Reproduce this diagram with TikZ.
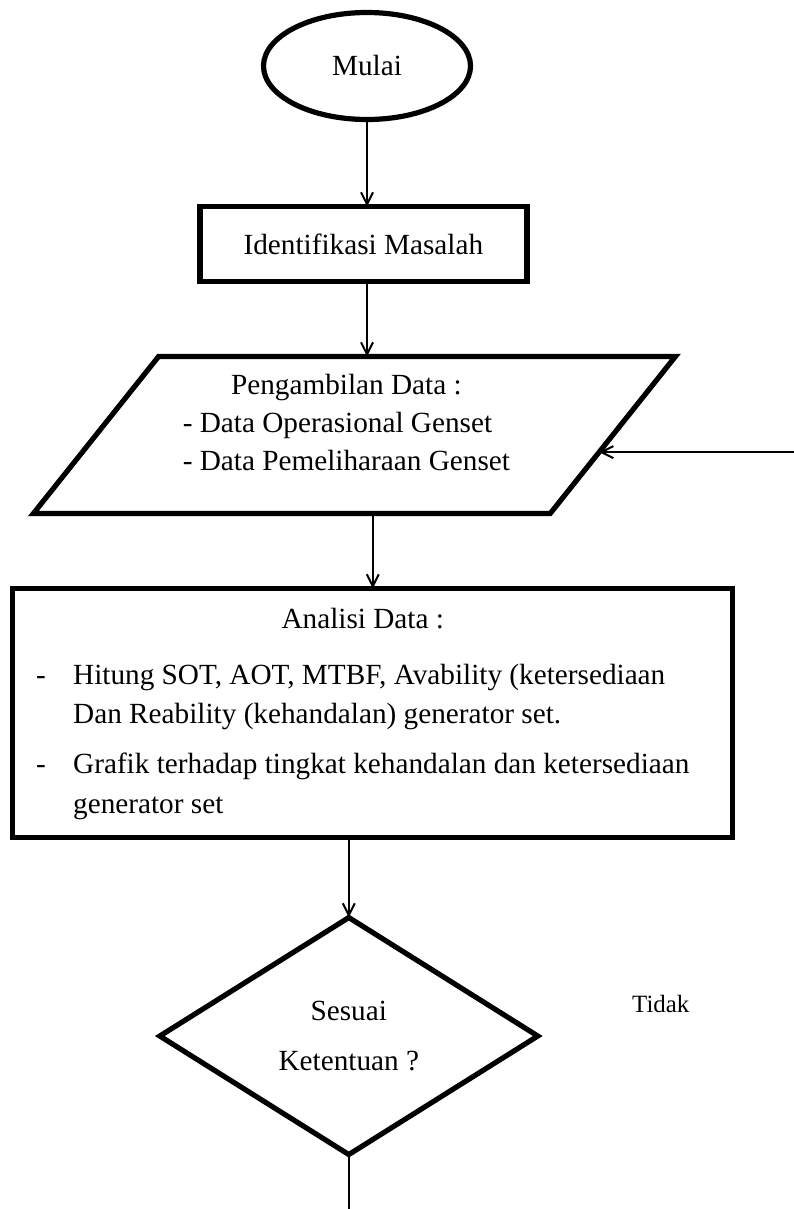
\documentclass[tikz,border=0pt]{standalone}
\usepackage{fontspec}
\setmainfont{Liberation Serif}
\usetikzlibrary{arrows.meta, positioning, shapes.geometric, calc}

\begin{document}
\begin{tikzpicture}[
    >=Straight Barb,
    font=\fontsize{20.8pt}{26.7pt}\selectfont,
    startend/.style={ellipse, draw=black, line width=1.3mm, outer sep=0pt, minimum width=51.75mm, minimum height=26.75mm, inner sep=0pt},
    proc/.style={rectangle, draw=black, line width=1.3mm, outer sep=0pt, minimum width=81.75mm, minimum height=18.75mm},
    io/.style={trapezium, trapezium left angle=50.4, trapezium right angle=129.6, trapezium stretches=true, draw=black, line width=1.3mm, outer sep=0pt, minimum width=161.25mm, minimum height=39.25mm, inner sep=0pt},
    decision/.style={diamond, aspect=1.6, draw=black, line width=1.3mm, outer sep=0pt, minimum width=94.5mm, minimum height=59.25mm, inner sep=0pt, align=center, font=\fontsize{20.8pt}{35.6pt}\selectfont},
    note/.style={font=\fontsize{17.7pt}{21pt}\selectfont},
    line/.style={-{Straight Barb[length=3mm, width=3mm]}, line width=0.5mm}
]
\useasboundingbox (0,0) rectangle (198.25mm,-302.25mm);

\node[startend] (start) at (91.75mm,-16.5mm) {Mulai};
\node[proc, below=21.75mm of start, xshift=-0.9mm] (ident) {Identifikasi Masalah};
\node[io, below=18.75mm of ident, xshift=-2.25mm] (data) {%
  \begin{tabular}{@{}l@{\hspace{4mm}}}
    \multicolumn{1}{@{}c@{\hspace{4mm}}}{Pengambilan Data :}\\
    - Data Operasional Genset\\
    - Data Pemeliharaan Genset\\[5mm]
  \end{tabular}};
\node[proc, minimum width=180mm, minimum height=62.25mm, below=18.75mm of data, xshift=4.6mm,
      font=\fontsize{20.8pt}{28.1pt}\selectfont] (analisi) {%
  \begin{tabular}{@{}p{9.25mm}@{}l@{\hspace{5mm}}}
    \multicolumn{2}{@{}c@{\hspace{5mm}}}{Analisi Data :}\\[4.1mm]
    - & Hitung SOT, AOT, MTBF, Avability (ketersediaan\\
      & Dan Reability (kehandalan) generator set.\\[2.6mm]
    - & Grafik terhadap tingkat kehandalan dan ketersediaan\\
      & generator set
  \end{tabular}};
\node[decision, below=20mm of analisi, xshift=-6mm] (dec) {Sesuai\\Ketentuan ?};
\node[note] (tidak) at ($(dec)+(78mm,8mm)$) {Tidak};

\coordinate (back) at ($(data.-4.1)+(49mm,0)$);
\coordinate (exit) at ($(dec.south)+(0,-13.6mm)$);

\draw[line] (start) -- (start |- ident.north);
\draw[line] (start |- ident.south) -- (start |- data.north);
\draw[line] (analisi.north |- data.south) -- (analisi.north);
\draw[line] (dec.north |- analisi.south) -- (dec);
\draw[line] (back) -- (data.-4.1);
\draw[line width=0.5mm] (dec) -- (exit);
\end{tikzpicture}
\end{document}
